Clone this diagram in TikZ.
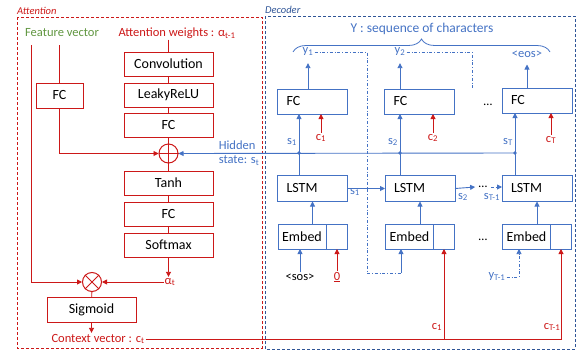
\documentclass[tikz,border=0pt]{standalone}
\usepackage{fontspec}
\setmainfont{Carlito}
\usepackage{tikz}
\usetikzlibrary{arrows.meta,decorations.pathreplacing,positioning}
\definecolor{attred}{RGB}{204,24,24}
\definecolor{decblue}{RGB}{68,114,196}
\definecolor{frameblue}{RGB}{47,85,151}
\definecolor{featgreen}{RGB}{96,150,64}
\tikzset{basic/.style={draw,fill=none,line width=1pt,outer sep=0pt,inner sep=0pt,minimum height=24pt,font=\fontsize{14}{16}\selectfont}}
\tikzset{attbox/.style={basic,draw=attred,minimum width=89pt}}
\tikzset{decbox/.style={basic,draw=decblue,text width=52pt,inner xsep=9pt,align=left,minimum height=25pt}}
\tikzset{embbox/.style={basic,draw=decblue,minimum width=48pt,minimum height=25pt}}
\tikzset{cellbox/.style={basic,draw=decblue,minimum width=21pt,minimum height=25pt}}
\tikzset{opnode/.style={circle,draw=attred,line width=1pt,minimum size=19pt,inner sep=0pt}}
\tikzset{rline/.style={draw=attred,line width=0.9pt}}
\tikzset{rarrow/.style={rline,-{Triangle[length=5pt,width=5pt]}}}
\tikzset{barrow/.style={draw=decblue,line width=0.9pt,-{Triangle[length=5pt,width=5pt]}}}

\begin{document}
\begin{tikzpicture}[x=1pt,y=-1pt,font=\fontsize{12.5}{14}\selectfont]
		\tikzstyle{lbl}=[inner sep=1pt]
		\tikzstyle{frame}=[line width=1pt,dash pattern=on 3pt off 2pt]
		\useasboundingbox (0,0) rectangle (581,351);

		% frames
		\draw[frame,attred] (17,17) rectangle (262,348);
		\draw[frame,frameblue] (265,16) rectangle (575,349);
		\node[attred,anchor=west,inner sep=0pt,font=\fontsize{10.5}{12}\selectfont\itshape](attlbl) at (17,11){Attention};
		\node[frameblue,anchor=west,inner sep=0pt,font=\fontsize{10.5}{12}\selectfont\itshape](declbl) at (265,10){Decoder};

		% attention
		\node[lbl,featgreen](fv) at (62,33){Feature vector};
		\node[lbl,attred](aw) at (177,33){Attention weights : α\textsubscript{t-1}};
		\node[attbox](conv) at (168.5,64){Convolution};
		\node[attbox](leaky) at (168.5,95){LeakyReLU};
		\node[attbox](afc1) at (168.5,125.5){FC};
		\node[opnode](plus) at (168.5,153.5){};
		\node[attbox](tanh) at (168.5,183){Tanh};
		\node[attbox](afc2) at (168.5,214){FC};
		\node[attbox](soft) at (168.5,245){Softmax};
		\node[attbox,minimum width=47pt,minimum height=25pt](ffc) at (59.5,95.5){FC};
		\node[opnode](times) at (92,282){};
		\node[attbox,minimum height=25pt](sig) at (91.5,309.5){Sigmoid};
		\node[lbl,attred](alpha) at (170,282){α\textsubscript{t}};
		\node[lbl,attred](ctx) at (98,339){Context vector : c\textsubscript{t}};
		\node[lbl,decblue,align=left](hid) at (239,153){Hidden\\state: s\textsubscript{t}};
		\coordinate (lft) at (31,45);

		\draw[rline] (aw.south -| conv) -- (conv.north);
		\draw[rline] (conv) -- (leaky);
		\draw[rline] (leaky) -- (afc1);
		\draw[rline] (afc1) -- (plus);
		\draw[rline] (plus) -- (tanh);
		\draw[rline] (tanh) -- (afc2);
		\draw[rline] (afc2) -- (soft);
		\draw[rline] (plus.north) -- (plus.south);
		\draw[rline] (plus.west) -- (plus.east);
		\draw[rline] (times.north west) -- (times.south east);
		\draw[rline] (times.north east) -- (times.south west);
		\draw[rarrow] (soft.south) -- (soft.south |- alpha.north);
		\draw[rarrow] (alpha) -- (times);
		\draw[rarrow] (lft) |- (times);
		\draw[rline] (lft -| ffc) -- (ffc);
		\draw[rarrow] (ffc) |- (plus);
		\draw[rline] (times) -- (sig);
		\draw[rarrow] (sig.south) -- (sig.south |- ctx.north);

		% decoder
		\node[lbl,decblue,font=\fontsize{13.5}{15}\selectfont](ytitle) at (422,29){Y : sequence of characters};
		\node[lbl,decblue](y1) at (308,52){y\textsubscript{1}};
		\node[lbl,decblue](y2) at (400,52){y\textsubscript{2}};
		\node[lbl,decblue](yeos) at (527,54){<eos>};

		\node[decbox](fc1) at (312.5,101.5){FC};
		\node[decbox](fc2) at (419.5,101.5){FC};
		\node[decbox](fc3) at (537,100.5){FC};
		\node(dfc) at (488,105){\dots};

		\node[decbox,minimum height=26pt](lstm1) at (312.5,188.5){LSTM};
		\node[decbox,minimum height=26pt](lstm2) at (420,188.5){LSTM};
		\node[decbox,minimum height=26pt](lstm3) at (537,188.5){LSTM};
		\node(dl) at (483,187){\dots};

		\node[embbox](emb1) at (302,236.5){Embed};
		\node[cellbox,right=0pt of emb1](emb1c){};
		\node[embbox](emb2) at (409.5,236.5){Embed};
		\node[cellbox,right=0pt of emb2](emb2c){};
		\node[embbox](emb3) at (526.5,236.5){Embed};
		\node[cellbox,right=0pt of emb3](emb3c){};
		\node(demb) at (483,240){\dots};

		\node[lbl](sos) at (300,277){<sos>};
		\node[lbl,attred](zero) at (337,277){\underline{0}};
		\node[lbl,decblue](ytm) at (497,277){y\textsubscript{T-1}};

		\node[lbl,decblue](s1) at (292,142){s\textsubscript{1}};
		\node[lbl,decblue](s2) at (393,142){s\textsubscript{2}};
		\node[lbl,decblue](sT) at (508,142){s\textsubscript{T}};
		\node[lbl,attred](c1) at (321,138){c\textsubscript{1}};
		\node[lbl,attred](c2) at (433,138){c\textsubscript{2}};
		\node[lbl,attred](cT) at (551,140){c\textsubscript{T}};
		\node[lbl,decblue](ls1) at (355,192){s\textsubscript{1}};
		\node[lbl,decblue](ls2) at (463,197){s\textsubscript{2}};
		\node[lbl,decblue](lsT) at (492,197){s\textsubscript{T-1}};
		\node[lbl,attred](cl1) at (437,327){c\textsubscript{1}};
		\node[lbl,attred](cl2) at (552,327){c\textsubscript{T-1}};

		\coordinate (d1) at (299,153);
		\coordinate (d2) at (400,153);
		\coordinate (d3) at (515,153);
		\coordinate (k1) at (367,273);
		\coordinate (k2) at (472,88);
		\coordinate (e2in) at ([xshift=-8.5pt]emb2.south);
		\coordinate (e3in) at ([xshift=-7.5pt]emb3.south);

		\draw[decorate,decoration={brace,amplitude=13pt},decblue,line width=0.8pt] (293,52) -- (550,52);

		\draw[barrow,shorten >=6pt] (fc1.north -| y1) -- (y1.south);
		\draw[barrow,shorten >=6pt] (fc2.north -| y2) -- (y2.south);
		\draw[barrow,shorten >=6pt] (fc3.north -| yeos) -- (yeos.south);

		\draw[barrow] (lstm1.north -| d1) -- (fc1.south -| d1);
		\draw[barrow] (lstm2.north -| d2) -- (fc2.south -| d2);
		\draw[barrow] (lstm3.north -| d3) -- (fc3.south -| d3);
		\draw[barrow] (d3) -- (plus.east);
		\fill[decblue] (d1) circle (1.8);
		\fill[decblue] (d2) circle (1.8);
		\fill[decblue] (d3) circle (1.8);

		\draw[rarrow] (c1) -- (c1 |- fc1.south);
		\draw[rarrow] (c2) -- (c2 |- fc2.south);
		\draw[rarrow] (cT) -- (cT |- fc3.south);

		\draw[barrow] (lstm1) -- (lstm2);
		\draw[barrow] (lstm2.east) -- (dl.west);
		\draw[barrow,dashdotted] (dl.east) -- (lstm3.west |- dl.east);

		\draw[barrow] (emb1.north -| lstm1) -- (lstm1.south);
		\draw[barrow] (emb2.north -| lstm2) -- (lstm2.south);
		\draw[barrow] (emb3.north -| lstm3) -- (lstm3.south);

		\draw[barrow] (sos) -- (sos |- emb1.south);
		\draw[rarrow] (zero) -- (zero |- emb1c.south);

		\draw[decblue,line width=0.6pt,dashdotted] (y1.east) -| (k1) -- (k1 -| e2in);
		\draw[barrow] (k1 -| e2in) -- (e2in);
		\draw[decblue,line width=0.6pt,dashdotted] (y2.east) -| (k2);
		\draw[barrow,line width=0.6pt,dashdotted] (ytm.east) -| (e3in);

		\draw[rarrow] (ctx.east) -| (emb3c.south);
		\draw[rarrow] (ctx.east -| emb2c.south) -- (emb2c.south);
	\end{tikzpicture}
\end{document}
